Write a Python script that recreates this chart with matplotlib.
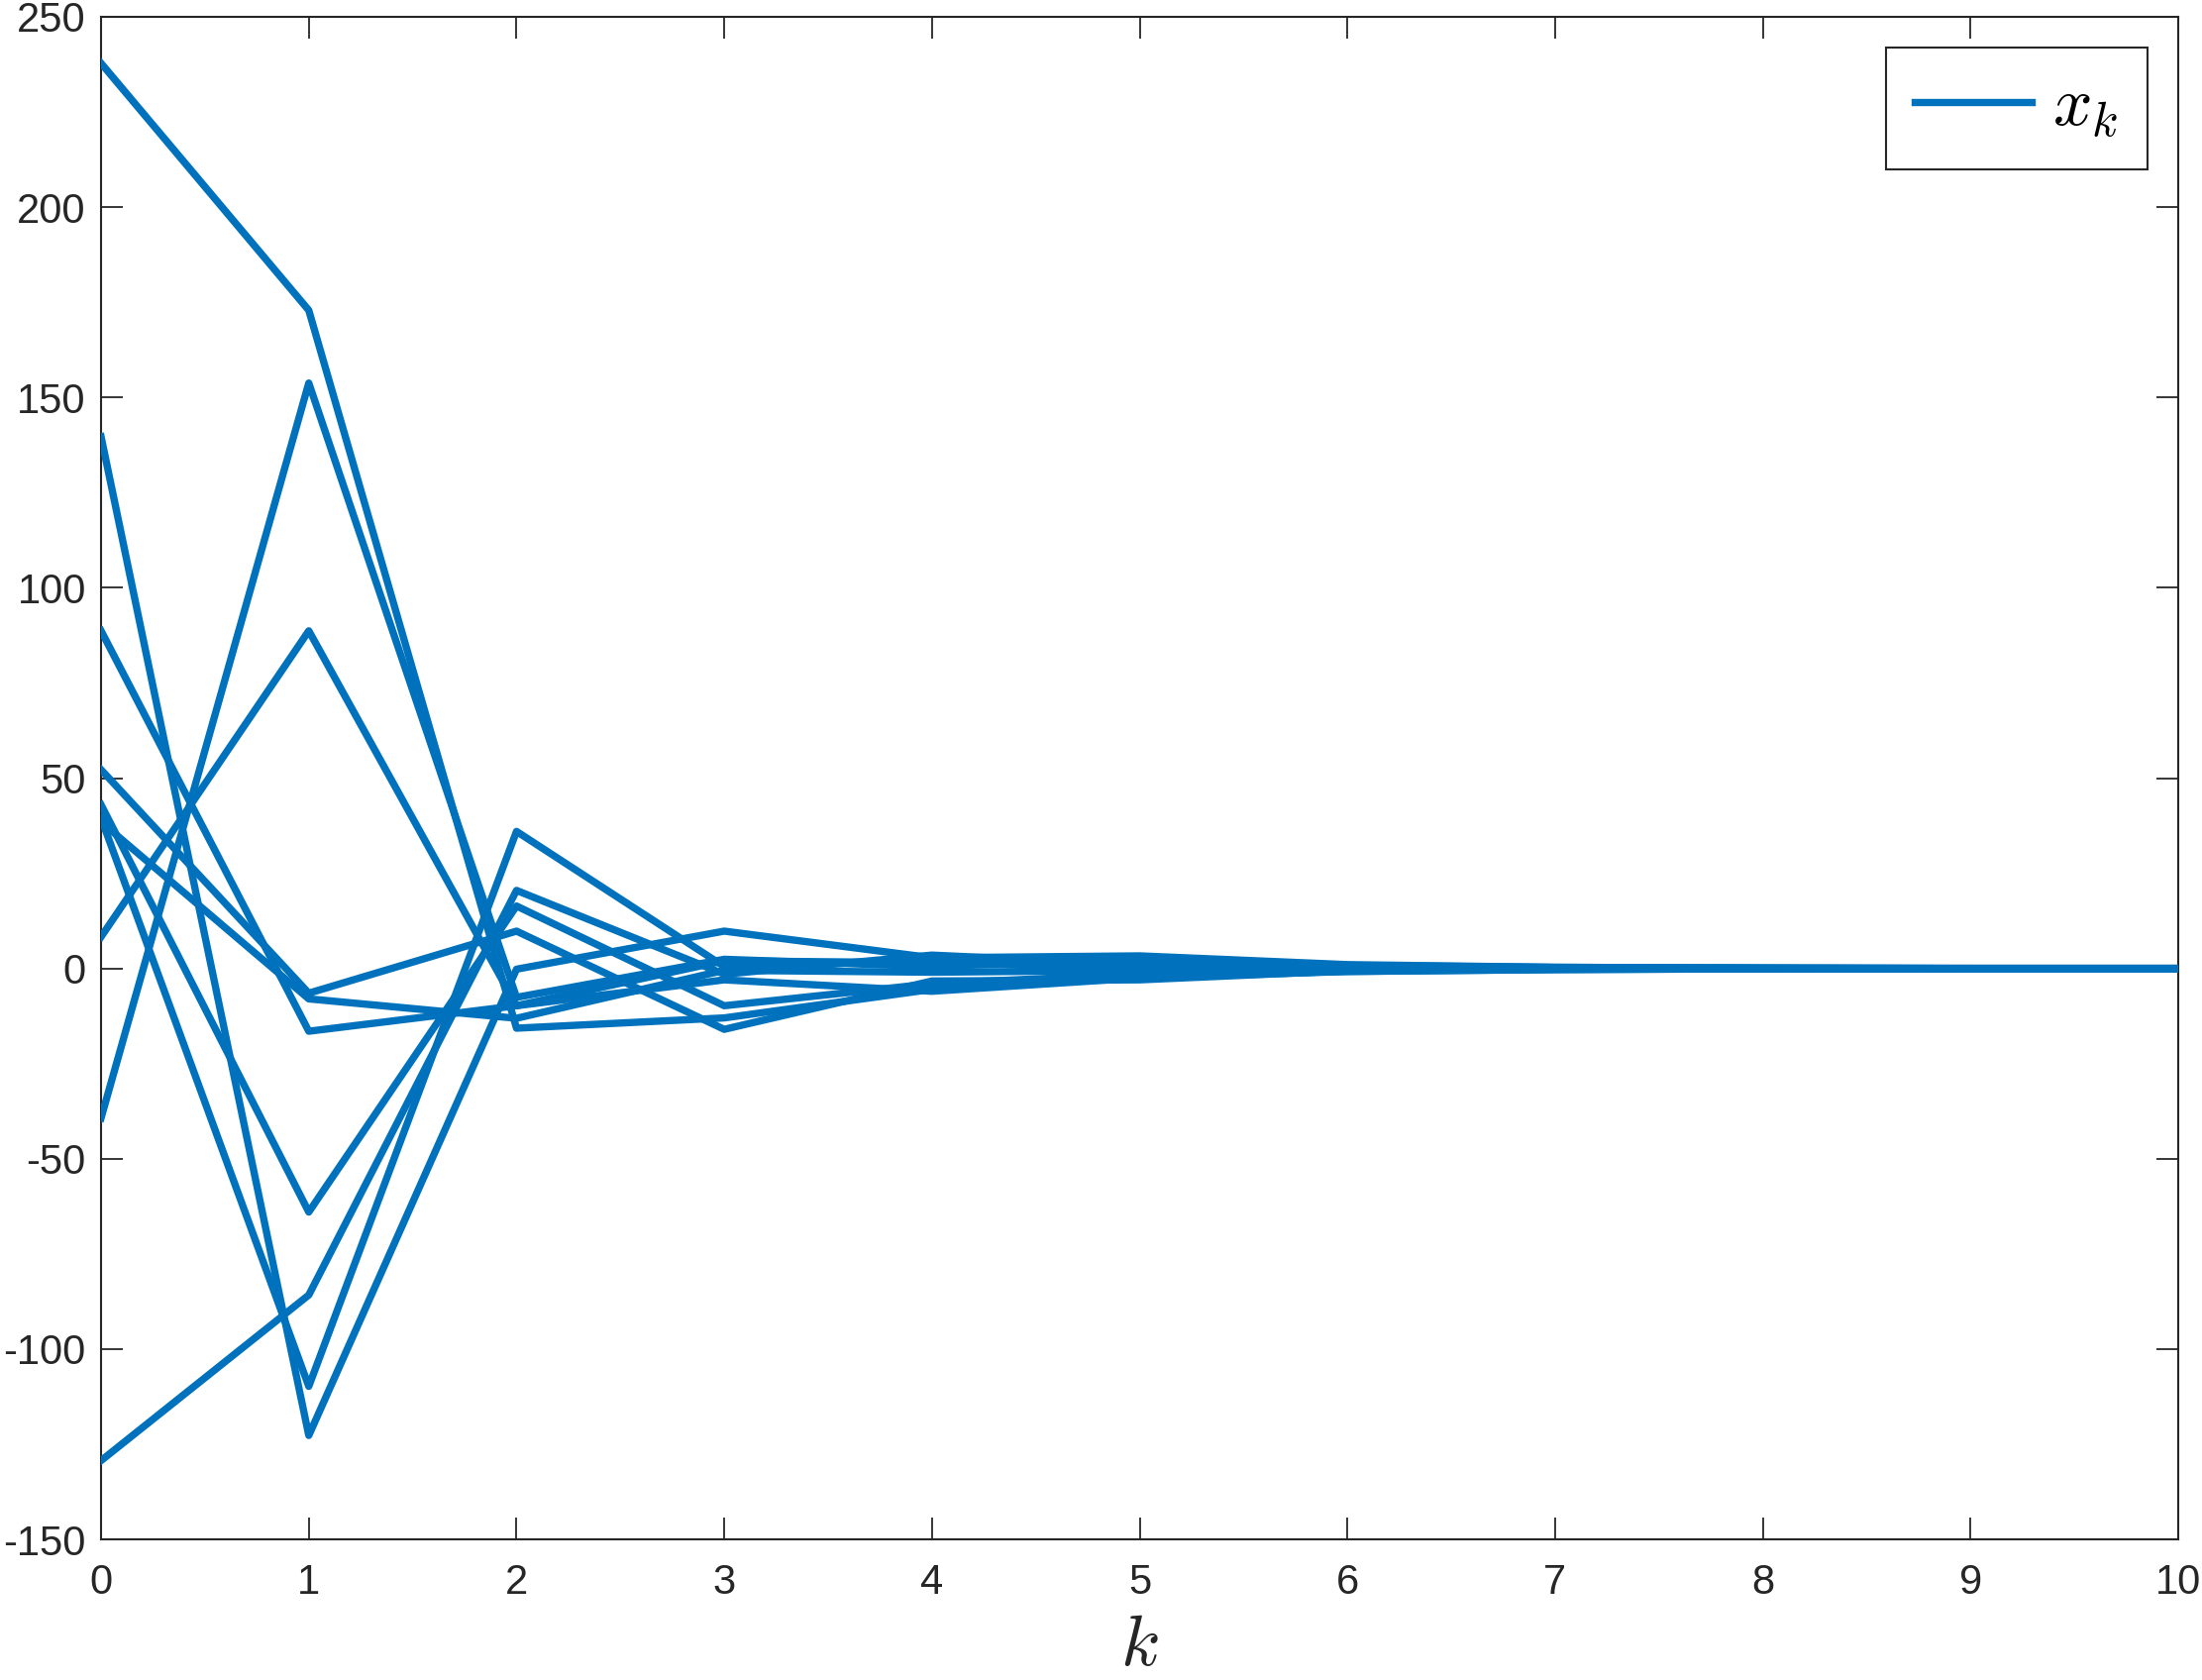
import matplotlib
matplotlib.use("Agg")
import matplotlib.pyplot as plt
import numpy as np

plt.rcParams['mathtext.fontset'] = 'cm'
plt.rcParams['font.family'] = ['Liberation Sans', 'DejaVu Sans']

k = list(range(11))

x1 = [237.8, 172.9, -15.7, -13.0, -5.5, -2.0, -0.8, -0.3, -0.1, 0.0, 0.0]
x2 = [139.7, -122.7, -0.2, 9.8, 2.8, 3.3, 1.0, 0.3, 0.1, 0.0, 0.0]
x3 = [88.7, -16.5, -9.8, 2.0, 1.5, 0.5, 0.2, 0.1, 0.0, 0.0, 0.0]
x4 = [52.2, -6.5, 9.8, -16.0, -3.3, -3.0, -0.6, -0.2, -0.1, 0.0, 0.0]
x5 = [38.5, -8.0, -13.1, -0.5, -1.0, -0.5, -0.2, -0.1, 0.0, 0.0, 0.0]
x6 = [43.0, -64.0, 16.4, -9.8, -4.0, -1.5, -0.4, -0.1, 0.0, 0.0, 0.0]
x7 = [39.5, -109.8, 36.0, 0.5, 2.0, 1.5, 0.5, 0.2, 0.1, 0.0, 0.0]
x8 = [8.3, 88.7, -9.8, -3.0, -6.0, -2.5, -0.8, -0.3, -0.1, 0.0, 0.0]
x9 = [-39.3, 153.8, -7.6, 2.4, 0.5, 2.5, 0.8, 0.3, 0.1, 0.0, 0.0]
x10 = [-129.3, -85.8, 20.5, -1.5, 3.5, 1.0, 0.3, 0.1, 0.0, 0.0, 0.0]

series = [x1, x2, x3, x4, x5, x6, x7, x8, x9, x10]

xticks = list(range(0, 11))
yticks = list(range(-150, 251, 50))

color = '#0072BD'
dark = '#262626'

fig = plt.figure(figsize=(22.23, 16.96), dpi=100)
ax = fig.add_axes([0.0459, 0.0837, 0.9892 - 0.0459, 0.98998 - 0.0837])

for i, s in enumerate(series):
    ax.plot(k, s, color=color, lw=5.3, solid_joinstyle='round',
            label=r'$x_k$' if i == 0 else None, zorder=3)

ax.set_xlim(0, 10)
ax.set_ylim(-150, 250)
ax.set_xticks(xticks)
ax.set_yticks(yticks)
ax.set_xticklabels([str(t) for t in xticks])
ax.set_yticklabels([str(t) for t in yticks])

for sp in ax.spines.values():
    sp.set_color(dark)
    sp.set_linewidth(1.5)

ax.tick_params(direction='in', length=16, width=1.3, color=dark,
               labelsize=30, labelcolor=dark, top=True, right=True)
ax.tick_params(axis='x', pad=17)
ax.tick_params(axis='y', pad=11)

ax.set_xlabel(r'$k$', fontsize=52, color=dark, labelpad=8)

leg = ax.legend(loc='upper right', fontsize=50, frameon=True, fancybox=False,
                handlelength=1.7, borderaxespad=0.45, handletextpad=0.3,
                borderpad=0.42, framealpha=1)
leg.get_frame().set_edgecolor(dark)
leg.get_frame().set_linewidth(1.5)

fig.savefig('out.png', dpi=100, facecolor='white')
